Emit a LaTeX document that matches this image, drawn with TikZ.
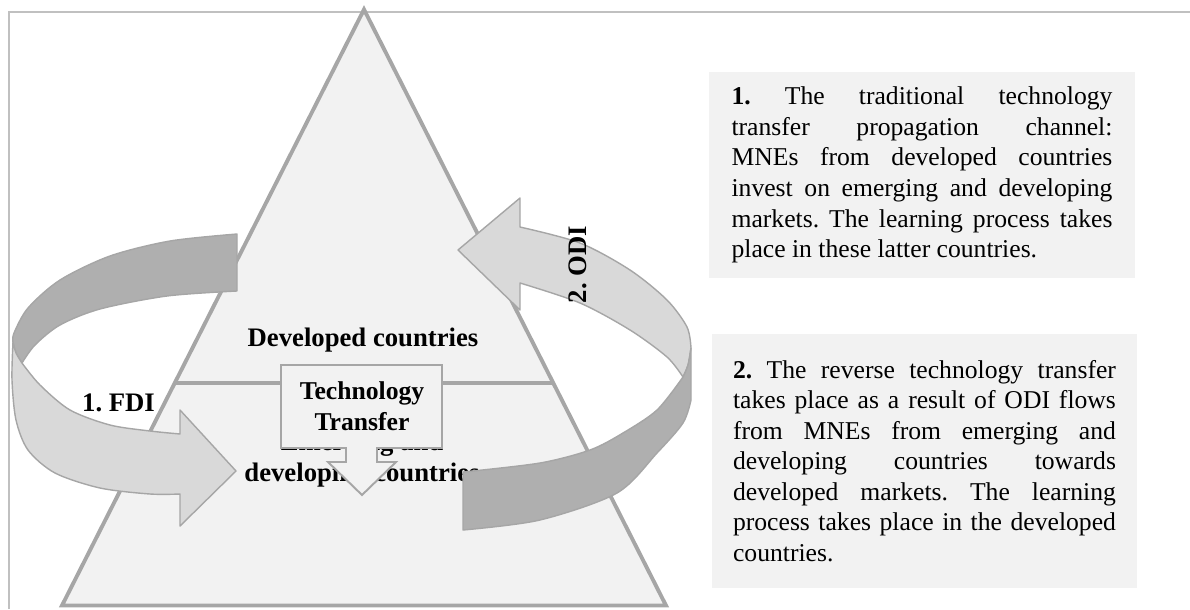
\documentclass[tikz,border=0pt]{standalone}
\usepackage{fontspec}
\setmainfont{Liberation Serif}
\usetikzlibrary{calc, positioning}

\definecolor{edgegray}{HTML}{A6A6A6}
\definecolor{fillgray}{HTML}{F2F2F2}
\definecolor{ribbonlight}{HTML}{D9D9D9}
\definecolor{ribbondark}{HTML}{AFAFAF}
\definecolor{framegray}{HTML}{C0C0C0}

\newcommand{\bodysize}{\fontsize{14.6}{17.4}\selectfont}
\newcommand{\headsize}{\fontsize{15.2}{17.4}\selectfont}
\hyphenpenalty=10000 % keep whole words in the justified notes
\tolerance=10000
\frenchspacing

\tikzset{
x=0.02cm, y=-0.02cm, % one unit per pixel, y grows downwards
every node/.style={inner sep=0pt, font=\bodysize},
region/.style={fill=fillgray, draw=edgegray, line width=2.2pt}, % the two-level pyramid
heading/.style={font=\headsize\bfseries, align=center},
ribbon light/.style={fill=ribbonlight, draw=edgegray, line width=0.8pt, line join=round},
ribbon dark/.style={fill=ribbondark, draw=edgegray, line width=0.8pt, line join=round},
callout/.style={fill=fillgray, draw=edgegray, line width=1.1pt},
note/.style={fill=fillgray, align=justify},
}

\begin{document}
\begin{tikzpicture}
\useasboundingbox (0,0) rectangle (1190,609);

% frame
\draw[framegray, line width=1.1pt] (9,609) -- (9,12) -- (1190,12);

% pyramid
\coordinate (apex) at (364,9.5);
\coordinate (bl) at (62,605.5);
\coordinate (br) at (666,605.5);
\filldraw[region] (apex) -- (br) -- (bl) -- cycle;
\draw[edgegray, line width=2.2pt] ($(apex)!0.626!(bl)$) -- ($(apex)!0.626!(br)$);

\node[heading, anchor=base] (developed) at (363,346) {Developed countries};
\node[heading] (emerging) at (362,459.5) {Emerging and\\developing countries};

% 1. FDI ribbon: back face, then front face with the head
\filldraw[ribbon dark] plot[smooth] coordinates {(237,234) (170,241) (110,256) (60,280) (28,308) (14,333) (13,342)}
  -- plot[smooth] coordinates {(13,342) (16,353) (22,363)}
  -- plot[smooth] coordinates {(22,363) (35,345) (60,325) (100,309) (167,296) (237,291)} -- cycle;
\filldraw[ribbon light] plot[smooth] coordinates {(13,342) (16,353) (22,363)}
  -- plot[smooth] coordinates {(22,363) (40,385) (70,410) (110,425) (150,431) (180,434)}
  -- (180,410) -- (236,471) -- (180,526) -- (180,494)
  -- plot[smooth] coordinates {(180,494) (150,494) (100,488) (55,473) (28,450) (16,420) (12,380) (13,342)} -- cycle;

% 2. ODI ribbon: back face with the head, then front face
\filldraw[ribbon light] (458,250) -- (520,198) -- (520,227)
  -- plot[smooth] coordinates {(520,227) (580,243) (630,270) (667,300) (687,327) (691,348)}
  -- plot[smooth] coordinates {(691,348) (688,365) (683,377)}
  -- plot[smooth] coordinates {(683,377) (667,357) (630,330) (580,303) (520,283)}
  -- (520,310) -- cycle;
\filldraw[ribbon dark] plot[smooth] coordinates {(691,348) (688,365) (683,377)}
  -- plot[smooth] coordinates {(683,377) (657,410) (623,433) (590,450) (540,463) (463,472)}
  -- (463,530)
  -- plot[smooth] coordinates {(463,530) (540,520) (617,493) (657,453) (683,423) (691,400)} -- cycle;

% technology transfer callout
\filldraw[callout] (281,365) -- (442,365) -- (442,448) -- (377,448) -- (377,462) -- (396,462)
  -- (362,495) -- (328,462) -- (346,462) -- (346,448) -- (281,448) -- cycle;
\node[heading, font=\bodysize\bfseries] (transfer) at (362,406.5) {Technology\\Transfer};

\node[heading, anchor=base] (fdi) at (118.5,411) {1. FDI};
\node[heading, rotate=90] (odi) at (578,264.5) {2. ODI};

% explanatory notes
\node[note, text width=7.62cm, minimum width=8.52cm, minimum height=4.12cm, inner xsep=0.45cm] (note1) at (922,175)
  {\textbf{1.} The traditional technology\linebreak transfer propagation channel:\linebreak MNEs from developed countries\linebreak invest on emerging and developing\linebreak markets. The learning process takes\linebreak place in these latter countries.};
\node[note, text width=7.66cm, minimum width=8.5cm, minimum height=5.08cm, inner xsep=0.42cm] (note2) at (924.5,461)
  {\textbf{2.} The reverse technology transfer\linebreak takes place as a result of ODI flows\linebreak from MNEs from emerging and\linebreak developing countries towards\linebreak developed markets. The learning\linebreak process takes place in the developed\linebreak countries.};
\end{tikzpicture}
\end{document}
